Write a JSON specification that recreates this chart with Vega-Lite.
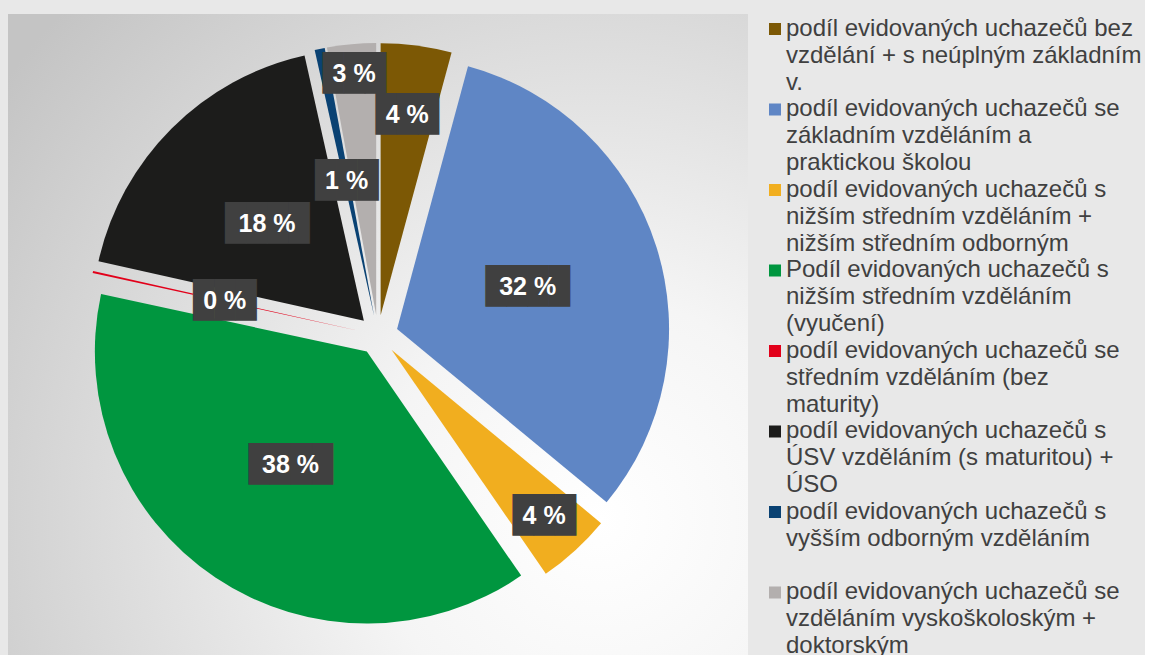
{
  "$schema": "https://vega.github.io/schema/vega-lite/v6.json",
  "width": 740,
  "height": 642,
  "padding": {"left": 8, "top": 14, "right": 0, "bottom": 0},
  "autosize": {"type": "pad"},
  "background": "#e8e8e8",
  "config": {"view": {"stroke": null}},
  "data": {
    "values": [
      {"category": "podíl evidovaných uchazečů bez\nvzdělání + s neúplným základním\nv.", "value": 4.2, "label": "4 %"},
      {"category": "podíl evidovaných uchazečů se\nzákladním vzděláním a\npraktickou školou", "value": 31.8, "label": "32 %"},
      {"category": "podíl evidovaných uchazečů s\nnižším středním vzděláním +\nnižším středním odborným", "value": 4.4, "label": "4 %"},
      {"category": "Podíl evidovaných uchazečů s\nnižším středním vzděláním\n(vyučení)", "value": 38.0, "label": "38 %"},
      {"category": "podíl evidovaných uchazečů se\nstředním vzděláním (bez\nmaturity)", "value": 0.12, "label": "0 %"},
      {"category": "podíl evidovaných uchazečů s\nÚSV vzděláním (s maturitou) +\nÚSO", "value": 17.98, "label": "18 %"},
      {"category": "podíl evidovaných uchazečů s\nvyšším odborným vzděláním\n ", "value": 0.6, "label": "1 %"},
      {"category": "podíl evidovaných uchazečů se\nvzděláním vyskoškoloským +\ndoktorským", "value": 2.9, "label": "3 %"}
    ]
  },
  "layer": [
    {
      "data": {"values": [{"bg": 1}]},
      "mark": {
        "type": "rect",
        "fill": {
          "gradient": "radial",
          "x1": 0.8, "y1": 0.75, "r1": 0,
          "x2": 0.8, "y2": 0.75, "r2": 1.0,
          "stops": [
            {"offset": 0, "color": "#ffffff"},
            {"offset": 0.3, "color": "#f5f5f5"},
            {"offset": 1, "color": "#c4c4c4"}
          ]
        }
      },
      "encoding": {}
    },
    {
      "transform": [{"window": [{"op": "row_number", "as": "rank"}]}],
      "mark": {
        "type": "arc",
        "outerRadius": 272,
        "xOffset": {"expr": "20*sin(scale('theta', (datum.value_start + datum.value_end)/2))"},
        "yOffset": {"expr": "-20*cos(scale('theta', (datum.value_start + datum.value_end)/2))"}
      },
      "encoding": {
        "theta": {"field": "value", "type": "quantitative", "stack": true},
        "order": {"field": "rank", "type": "quantitative"},
        "color": {
          "field": "category",
          "type": "nominal",
          "scale": {
            "domain": [
              "podíl evidovaných uchazečů bez\nvzdělání + s neúplným základním\nv.",
              "podíl evidovaných uchazečů se\nzákladním vzděláním a\npraktickou školou",
              "podíl evidovaných uchazečů s\nnižším středním vzděláním +\nnižším středním odborným",
              "Podíl evidovaných uchazečů s\nnižším středním vzděláním\n(vyučení)",
              "podíl evidovaných uchazečů se\nstředním vzděláním (bez\nmaturity)",
              "podíl evidovaných uchazečů s\nÚSV vzděláním (s maturitou) +\nÚSO",
              "podíl evidovaných uchazečů s\nvyšším odborným vzděláním\n ",
              "podíl evidovaných uchazečů se\nvzděláním vyskoškoloským +\ndoktorským"
            ],
            "range": ["#7c5805", "#5f86c5", "#f1ae1f", "#00963f", "#e2001a", "#1c1c1b", "#0a4273", "#b3afae"]
          },
          "legend": {
            "title": null,
            "orient": "right",
            "offset": 12,
            "padding": 3,
            "labelFont": "Liberation Sans",
            "labelFontSize": 24,
            "labelColor": "#404040",
            "labelLimit": 420,
            "labelOffset": -1,
            "labelBaseline": "top",
            "labelExpr": "split(datum.label, '\\n')",
            "symbolType": "square",
            "symbolSize": 144,
            "symbolStrokeWidth": 0,
            "rowPadding": 1.5,
            "encode": {
              "labels": {"update": {"lineHeight": {"value": 27.2}, "dy": {"value": -12.5}}}
            }
          }
        }
      }
    },
    {
      "transform": [{"window": [{"op": "row_number", "as": "rank"}]}],
      "mark": {
        "type": "text",
        "font": "DejaVu Sans Mono",
        "fontSize": 35,
        "fill": "#404040",
        "align": "center",
        "baseline": "middle",
        "radius": {"expr": "datum.value >= 2 && datum.value < 3.5 ? 262 : datum.value >= 3.5 && datum.value < 4.3 ? 222 : datum.value >= 4.3 && datum.value < 5 ? 246 : 157"}
      },
      "encoding": {
        "theta": {"field": "value", "type": "quantitative", "stack": true},
        "order": {"field": "rank", "type": "quantitative"},
        "detail": {"field": "category", "type": "nominal"},
        "text": {"condition": {"test": "length(datum.label) > 3", "value": "████"}, "value": "███"}
      }
    },
    {
      "transform": [{"window": [{"op": "row_number", "as": "rank"}]}],
      "mark": {
        "type": "text",
        "font": "Liberation Sans",
        "fontWeight": "bold",
        "fontSize": 25,
        "fill": "#ffffff",
        "align": "center",
        "baseline": "middle",
        "radius": {"expr": "datum.value >= 2 && datum.value < 3.5 ? 262 : datum.value >= 3.5 && datum.value < 4.3 ? 222 : datum.value >= 4.3 && datum.value < 5 ? 246 : 157"}
      },
      "encoding": {
        "theta": {"field": "value", "type": "quantitative", "stack": true},
        "order": {"field": "rank", "type": "quantitative"},
        "detail": {"field": "category", "type": "nominal"},
        "text": {"field": "label", "type": "nominal"}
      }
    }
  ]
}
